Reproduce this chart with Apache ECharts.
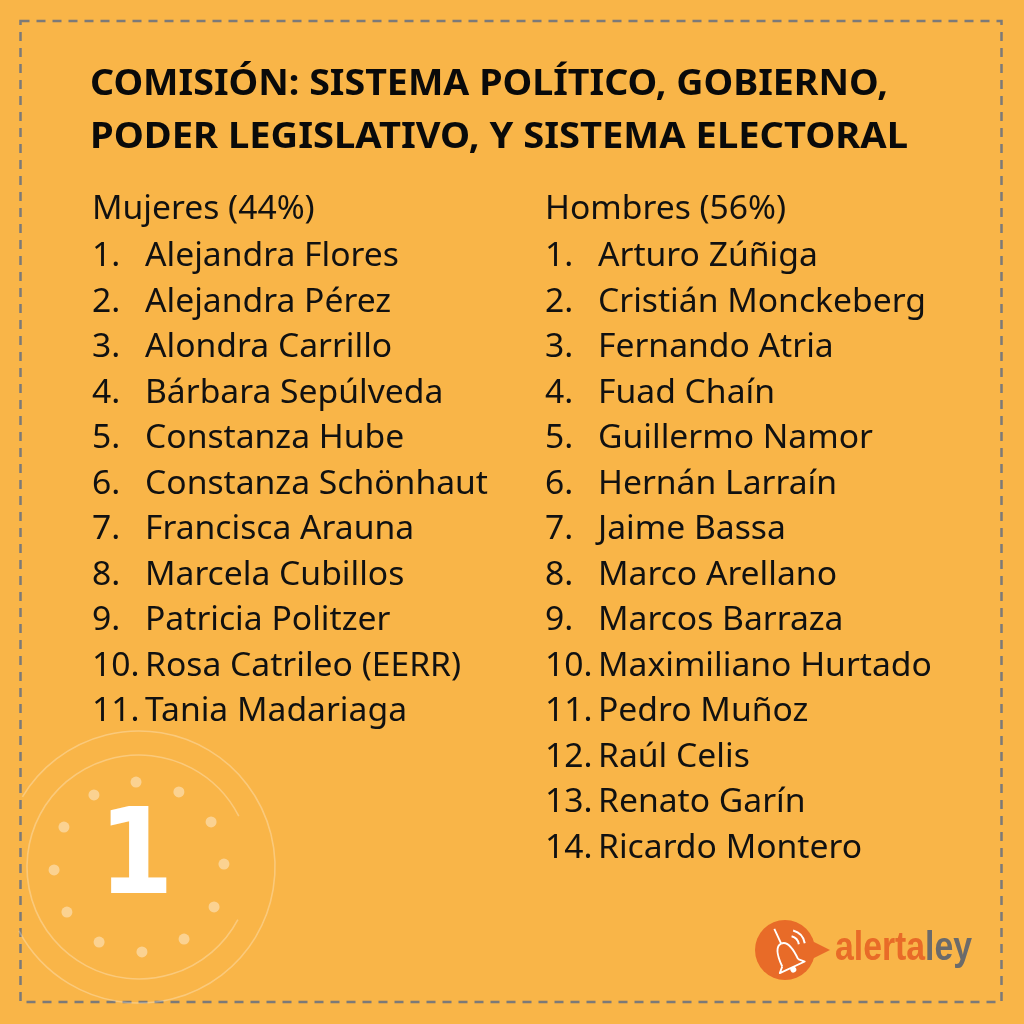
<!DOCTYPE html>
<html>
<head>
<meta charset="utf-8">
<script src="https://cdn.jsdelivr.net/npm/echarts@6/dist/echarts.min.js"></script>
<style>html,body{margin:0;padding:0;background:#F9B548;}#c{width:1024px;height:1024px;}</style>
</head>
<body>
<div id="c"></div>
<script>
// ---- content ----
const titleLines = ['COMISIÓN: SISTEMA POLÍTICO, GOBIERNO,', 'PODER LEGISLATIVO, Y SISTEMA ELECTORAL'];
const womenHeading = 'Mujeres (44%)';
const menHeading = 'Hombres (56%)';
const women = ['Alejandra Flores', 'Alejandra Pérez', 'Alondra Carrillo', 'Bárbara Sepúlveda', 'Constanza Hube',
  'Constanza Schönhaut', 'Francisca Arauna', 'Marcela Cubillos', 'Patricia Politzer', 'Rosa Catrileo (EERR)', 'Tania Madariaga'];
const men = ['Arturo Zúñiga', 'Cristián Monckeberg', 'Fernando Atria', 'Fuad Chaín', 'Guillermo Namor', 'Hernán Larraín',
  'Jaime Bassa', 'Marco Arellano', 'Marcos Barraza', 'Maximiliano Hurtado', 'Pedro Muñoz', 'Raúl Celis', 'Renato Garín', 'Ricardo Montero'];
const badgeNumber = '1';
const logoParts = ['alerta', 'ley'];

// ---- layout helpers ----
const BG = '#F9B548';
const mctx = document.createElement('canvas').getContext('2d');
function measure(text, font) { mctx.font = font; return mctx.measureText(text).width; }

const TITLE_FS = 36, TITLE_FONT_FAMILY = '"Noto Sans", "Open Sans", sans-serif';
const LIST_FS = 32, LIST_FONT_FAMILY = '"Noto Sans", "Open Sans", sans-serif';
const titleFont = 'bold ' + TITLE_FS + 'px ' + TITLE_FONT_FAMILY;
const listFont = LIST_FS + 'px ' + LIST_FONT_FAMILY;
const listScale = 343 / measure('Constanza Schönhaut', listFont);
const titleTargets = [798, 818];

const graphics = [];
function txt(x, baseline, text, font, fs, color, scaleX) {
  graphics.push({
    type: 'text', x: x, y: baseline - fs * 0.34, scaleX: scaleX || 1,
    style: { text: text, font: font, fill: color, align: 'left', verticalAlign: 'middle' },
    silent: true
  });
}

// border
graphics.push({ type: 'rect', shape: { x: 20.5, y: 21, width: 981, height: 981 },
  style: { fill: null, stroke: '#7c7a78', lineWidth: 2.5, lineDash: [9, 7] }, silent: true });

// title
titleLines.forEach(function (t, i) {
  const s = titleTargets[i] / measure(t, titleFont);
  txt(90, 97 + i * 53, t, titleFont, TITLE_FS, '#0a0a0a', s);
});

// headings and lists
const rowH = 45.5, firstRow = 268;
txt(92, 221, womenHeading, listFont, LIST_FS, '#111', listScale);
txt(545, 221, menHeading, listFont, LIST_FS, '#111', listScale);
women.forEach(function (n, i) {
  txt(92, firstRow + i * rowH, (i + 1) + '.', listFont, LIST_FS, '#111', listScale);
  txt(145, firstRow + i * rowH, n, listFont, LIST_FS, '#111', listScale);
});
men.forEach(function (n, i) {
  txt(545, firstRow + i * rowH, (i + 1) + '.', listFont, LIST_FS, '#111', listScale);
  txt(598, firstRow + i * rowH, n, listFont, LIST_FS, '#111', listScale);
});

// decorative badge
const bcx = 139, bcy = 867;
const deg = Math.PI / 180;
graphics.push({ type: 'arc', shape: { cx: bcx, cy: bcy, r: 112, startAngle: 28 * deg, endAngle: 333 * deg, clockwise: true },
  style: { fill: null, stroke: 'rgba(255,255,255,0.28)', lineWidth: 1.6 }, silent: true });
graphics.push({ type: 'arc', shape: { cx: bcx, cy: bcy, r: 136, startAngle: 211 * deg, endAngle: 512 * deg, clockwise: true },
  style: { fill: null, stroke: 'rgba(255,255,255,0.28)', lineWidth: 1.6 }, silent: true });
for (let k = 0; k < 12; k++) {
  const a = (-92 + 30 * k) * deg;
  graphics.push({ type: 'circle', shape: { cx: bcx + 85 * Math.cos(a), cy: bcy + 85 * Math.sin(a), r: 5.5 },
    style: { fill: 'rgba(255,255,255,0.4)' }, silent: true });
}
graphics.push({ type: 'text', x: 136, y: 862, scaleX: 0.9,
  style: { text: badgeNumber, font: '900 120px "DejaVu Sans", sans-serif', fill: '#ffffff', align: 'center', verticalAlign: 'middle' }, silent: true });

// logo
const ORANGE = '#E86B28';
const W = '#ffffff';
graphics.push({ type: 'circle', shape: { cx: 785, cy: 950, r: 30 }, style: { fill: ORANGE }, silent: true });
graphics.push({ type: 'polygon', shape: { points: [[810, 940], [830, 950], [810, 960]] }, style: { fill: ORANGE }, silent: true });
graphics.push({ type: 'group', x: 787, y: 956, rotation: 25 * deg, scaleX: 1.25, scaleY: 1.25, silent: true, children: [
  { type: 'bezierCurve', shape: { x1: -7, y1: 6, cpx1: -7, cpy1: -4, cpx2: -5, cpy2: -11, x2: 0, y2: -11 },
    style: { fill: null, stroke: W, lineWidth: 1.5 } },
  { type: 'bezierCurve', shape: { x1: 0, y1: -11, cpx1: 5, cpy1: -11, cpx2: 7, cpy2: -4, x2: 7, y2: 6 },
    style: { fill: null, stroke: W, lineWidth: 1.5 } },
  { type: 'polyline', shape: { points: [[7, 6], [11, 10], [-11, 10], [-7, 6]] },
    style: { fill: null, stroke: W, lineWidth: 1.5, lineJoin: 'round' } },
  { type: 'line', shape: { x1: 0, y1: -11, x2: 0, y2: -24 }, style: { stroke: W, lineWidth: 1.5 } },
  { type: 'circle', shape: { cx: 0, cy: 12, r: 2.4 }, style: { fill: W } }
] });
graphics.push({ type: 'arc', shape: { cx: 789, cy: 946, r: 10, startAngle: -75 * deg, endAngle: -10 * deg, clockwise: true },
  style: { fill: null, stroke: W, lineWidth: 2 }, silent: true });
graphics.push({ type: 'arc', shape: { cx: 789, cy: 946, r: 16, startAngle: -75 * deg, endAngle: -10 * deg, clockwise: true },
  style: { fill: null, stroke: W, lineWidth: 2 }, silent: true });
const LOGO_FS = 41;
const logoFont = 'bold ' + LOGO_FS + 'px "Liberation Sans", Arial, sans-serif';
const logoScale = 137 / measure(logoParts.join(''), logoFont);
graphics.push({ type: 'text', x: 835, y: 963 - LOGO_FS * 0.34, scaleX: logoScale, silent: true,
  style: { text: '{a|' + logoParts[0] + '}{b|' + logoParts[1] + '}', font: logoFont, verticalAlign: 'middle',
    rich: { a: { fill: ORANGE, font: logoFont }, b: { fill: '#6B6B6B', font: logoFont } } } });

const chart = echarts.init(document.getElementById('c'), null, { renderer: 'canvas' });
chart.setOption({ backgroundColor: BG, animation: false, graphic: { elements: graphics } });
</script>
</body>
</html>
